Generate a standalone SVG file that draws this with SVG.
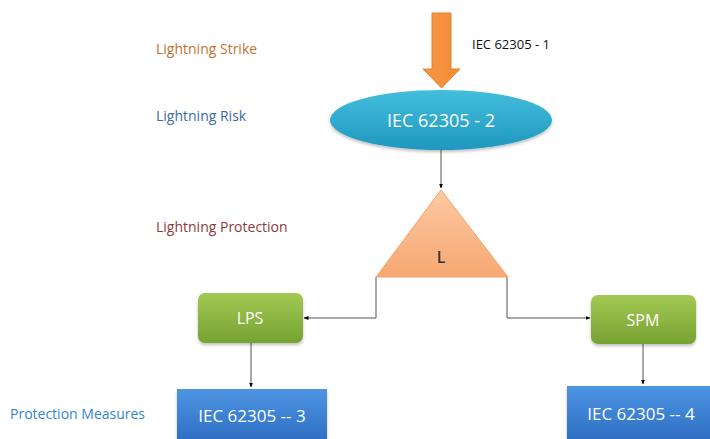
<svg xmlns="http://www.w3.org/2000/svg" width="710" height="439" viewBox="0 0 710 439">
<defs>
<linearGradient id="gEll" x1="0" y1="0" x2="0" y2="1"><stop offset="0" stop-color="#43bedc"/><stop offset="1" stop-color="#1f97bf"/></linearGradient>
<linearGradient id="gTri" x1="0" y1="0" x2="0" y2="1"><stop offset="0" stop-color="#fcc9a3"/><stop offset="1" stop-color="#f7a772"/></linearGradient>
<linearGradient id="gGreen" x1="0" y1="0" x2="0" y2="1"><stop offset="0" stop-color="#a3c954"/><stop offset="1" stop-color="#76a232"/></linearGradient>
<linearGradient id="gBlue" x1="0" y1="0" x2="0" y2="1"><stop offset="0" stop-color="#4e95e2"/><stop offset="1" stop-color="#2c6cc2"/></linearGradient>
<linearGradient id="gOrange" x1="0" y1="0" x2="1" y2="0"><stop offset="0" stop-color="#f79646"/><stop offset="1" stop-color="#f58b35"/></linearGradient>
<marker id="arr" viewBox="0 0 10 10" refX="9" refY="5" markerWidth="5" markerHeight="5" orient="auto"><path d="M0,1 L10,5 L0,9 z" fill="#000"/></marker>
<filter id="sh" x="-10%" y="-10%" width="120%" height="130%"><feDropShadow dx="0" dy="2" stdDeviation="1.5" flood-color="#000" flood-opacity="0.25"/></filter>
</defs>
<style>
text{font-family:"Open Sans","Liberation Sans",sans-serif;}
.lbl{font-size:14px;}
.wt{fill:#fff;text-anchor:middle;}
.conn{fill:none;stroke:#555;stroke-width:1;}
</style>
<rect width="710" height="439" fill="#fff"/>

<g id="labels">
<text class="lbl" x="156" y="54" fill="#c3712f">Lightning Strike</text>
<text class="lbl" x="156" y="121" fill="#3e6aa6">Lightning Risk</text>
<text class="lbl" x="156" y="232" fill="#8a3b3b">Lightning Protection</text>
<text class="lbl" x="10" y="419" fill="#2f86d1" font-size="15">Protection Measures</text>
<text x="472" y="49" fill="#111" font-size="13">IEC 62305 - 1</text>
</g>

<g id="strike">
<path d="M432,13 L451,13 L451,69 L460,69 L441.5,88 L423,69 L432,69 Z" fill="url(#gOrange)" stroke="#e0812f" stroke-width="1"/>
</g>

<g id="connectors">
<line class="conn" x1="441" y1="150" x2="441" y2="188" marker-end="url(#arr)"/>
<polyline class="conn" points="376,277 376,318 304,318" marker-end="url(#arr)"/>
<polyline class="conn" points="507,277 507,318 590,318" marker-end="url(#arr)"/>
<line class="conn" x1="251" y1="343" x2="251" y2="387" marker-end="url(#arr)"/>
<line class="conn" x1="643" y1="344" x2="643" y2="384" marker-end="url(#arr)"/>
</g>

<g id="risk">
<ellipse cx="441" cy="120" rx="111" ry="30" fill="url(#gEll)" filter="url(#sh)"/>
<text class="wt" x="441" y="127" font-size="18">IEC 62305 - 2</text>
</g>

<g id="protection">
<polygon points="441,190 508,277 376,277" fill="url(#gTri)" stroke="#f4a26a" stroke-width="1"/>
<text x="441" y="263" font-size="16" font-weight="600" fill="#333" text-anchor="middle">L</text>
</g>

<g id="lps">
<rect x="198" y="293" width="105" height="50" rx="7" fill="url(#gGreen)" filter="url(#sh)"/>
<text class="wt" x="250" y="324" font-size="16">LPS</text>
</g>

<g id="spm">
<rect x="591" y="295" width="105" height="49" rx="7" fill="url(#gGreen)" filter="url(#sh)"/>
<text class="wt" x="643" y="326" font-size="16">SPM</text>
</g>

<g id="iec3">
<rect x="177" y="389" width="150" height="55" fill="url(#gBlue)" filter="url(#sh)"/>
<text class="wt" x="252" y="422" font-size="17">IEC 62305 -- 3</text>
</g>

<g id="iec4">
<rect x="567" y="386" width="148" height="58" fill="url(#gBlue)" filter="url(#sh)"/>
<text class="wt" x="641" y="420" font-size="17">IEC 62305 -- 4</text>
</g>
</svg>
